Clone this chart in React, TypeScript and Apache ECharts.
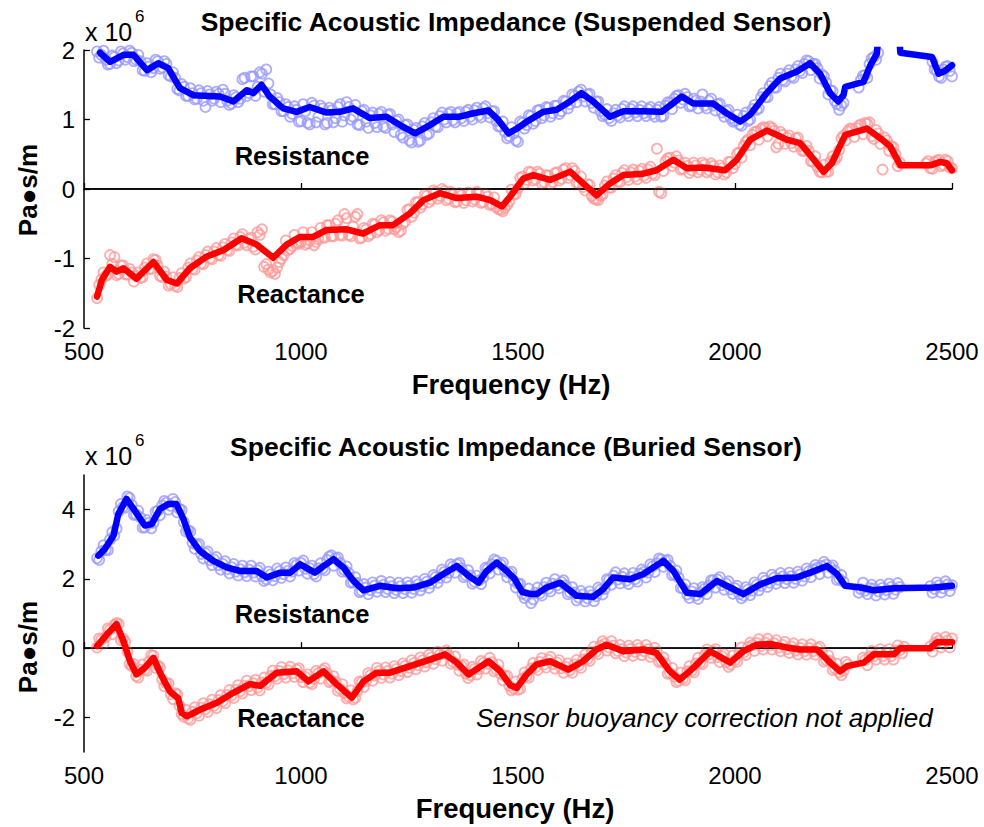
import React, { useEffect, useRef } from "react";
import * as echarts from "echarts";

const FONT = '"Liberation Sans", Arial, Helvetica, sans-serif';

// x ticks
const xTicks = [500, 1000, 1500, 2000, 2500];
const yTicksBuried = [-2, 0, 2, 4];

// measurement frequencies of the raw points (Hz): two interleaved sweeps
const scatterFreqA: number[] = Array.from({ length: 198 }, (_, i) => 530 + 10 * i); // 530..2500
const scatterFreqB: number[] = Array.from({ length: 197 }, (_, i) => 535 + 10 * i); // 535..2495

// ---- Suspended sensor (values in 10^6 Pa.s/m) ----
const susResPtsA: (number | null)[] = [
  1.98, 1.93, 1.86, 1.80, 1.90, 1.85, 1.95, 1.90, 1.96, 1.86,
  1.84, 1.70, 1.76, 1.74, 1.84, 1.75, 1.80, 1.62, 1.60, 1.42,
  1.47, 1.34, 1.38, 1.30, 1.38, 1.18, 1.36, 1.30, 1.37, 1.43,
  1.27, 1.23, 1.32, 1.30, 1.60, 1.38, 1.62, 1.47, 1.66, 1.72,
  1.36, 1.22, 1.25, 1.12, 1.18, 1.08, 1.14, 0.98, 1.12, 0.93,
  1.20, 1.04, 1.16, 0.95, 1.13, 1.02, 1.22, 1.06, 1.18, 1.04,
  0.93, 1.12, 0.97, 1.06, 0.95, 1.08, 0.90, 1.07, 0.93, 0.98,
  0.78, 0.92, 0.70, 0.85, 0.68, 0.90, 0.78, 0.96, 0.90, 1.05,
  1.00, 1.08, 0.99, 1.09, 1.02, 1.11, 1.04, 1.13, 1.06, 1.16,
  1.09, 1.12, 0.98, 0.90, 0.82, 0.76, 0.80, 0.68, 0.95, 0.92,
  1.05, 0.98, 1.14, 1.06, 1.17, 1.09, 1.20, 1.12, 1.26, 1.22,
  1.34, 1.40, 1.33, 1.36, 1.24, 1.26, 1.12, 1.07, 1.02, 1.09,
  1.06, 1.15, 1.09, 1.15, 1.10, 1.14, 1.09, 1.15, 1.08, 1.14,
  1.04, 1.20, 1.24, 1.30, 1.35, 1.29, 1.32, 1.20, 1.27, 1.26,
  1.20, 1.27, 1.20, 1.22, 1.10, 1.12, 1.02, 0.98, 0.93, 1.05,
  0.98, 1.15, 1.14, 1.32, 1.32, 1.48, 1.46, 1.60, 1.57, 1.66,
  1.62, 1.72, 1.70, 1.80, 1.84, 1.80, 1.74, 1.65, 1.53, 1.42,
  1.27, 1.14, 1.24, null, null, null, 1.57, 1.64, 1.80, 1.90,
  1.96, null, null, null, null, null, null, null, null, null,
  null, null, null, 1.72, 1.62, 1.72, 1.77, 1.62,
];
const susResPtsB: (number | null)[] = [
  1.89, 1.99, 1.79, 1.92, 1.81, 1.98, 1.86, 1.99, 1.84, 1.93,
  1.71, 1.81, 1.68, 1.86, 1.73, 1.84, 1.64, 1.68, 1.44, 1.51,
  1.34, 1.45, 1.29, 1.42, 1.27, 1.41, 1.27, 1.40, 1.25, 1.37,
  1.21, 1.35, 1.25, 1.58, 1.34, 1.62, 1.34, 1.68, 1.40, 1.52,
  1.22, 1.31, 1.12, 1.22, 1.04, 1.19, 0.97, 1.22, 0.95, 1.24,
  0.96, 1.20, 0.93, 1.17, 0.96, 1.18, 0.97, 1.25, 1.00, 1.21,
  0.92, 1.14, 0.88, 1.10, 0.89, 1.11, 0.88, 1.08, 0.82, 1.00,
  0.74, 0.93, 0.67, 0.88, 0.70, 0.95, 0.80, 1.02, 0.89, 1.10,
  0.96, 1.11, 0.96, 1.11, 0.98, 1.14, 1.00, 1.17, 1.03, 1.19,
  1.03, 1.12, 0.90, 0.97, 0.73, 0.89, 0.70, 0.97, 0.87, 1.06,
  0.94, 1.13, 1.02, 1.18, 1.04, 1.20, 1.08, 1.27, 1.16, 1.36,
  1.25, 1.43, 1.26, 1.37, 1.17, 1.26, 1.05, 1.15, 0.98, 1.14,
  1.03, 1.19, 1.05, 1.19, 1.05, 1.19, 1.05, 1.18, 1.04, 1.18,
  1.05, 1.25, 1.15, 1.34, 1.24, 1.37, 1.19, 1.30, 1.16, 1.36,
  1.16, 1.30, 1.13, 1.23, 1.04, 1.14, 0.97, 1.07, 0.91, 1.10,
  1.00, 1.21, 1.16, 1.38, 1.32, 1.53, 1.46, 1.66, 1.55, 1.71,
  1.60, 1.77, 1.67, 1.85, 1.71, 1.80, 1.59, 1.62, 1.36, 1.41,
  1.22, 1.20, null, null, null, 1.46, 1.63, 1.60, 1.88, 1.86,
  null, null, null, null, null, null, null, null, null, null,
  null, null, 1.83, 1.70, 1.60, 1.76, 1.70,
];

const susReacPtsA: (number | null)[] = [
  -1.57, -1.30, -1.25, -0.95, -0.98, -1.22, -1.10, -1.23, -1.20, -1.25,
  -1.28, -1.13, -1.15, -1.01, -1.10, -1.27, -1.26, -1.37, -1.39, -1.28,
  -1.29, -1.13, -1.15, -1.03, -1.07, -0.95, -1.00, -0.90, -0.95, -0.84,
  -0.88, -0.77, -0.80, -0.69, -0.77, -0.72, -0.83, -0.62, -0.58, -1.08,
  -1.20, -1.22, -1.05, -0.95, -0.88, -0.82, -0.78, -0.76, -0.80, -0.74,
  -0.81, -0.72, -0.70, -0.52, -0.68, -0.50, -0.66, -0.36, -0.66, -0.54,
  -0.36, -0.70, -0.58, -0.65, -0.51, -0.59, -0.48, -0.57, -0.47, -0.55,
  -0.60, -0.47, -0.29, -0.34, -0.19, -0.22, -0.10, -0.15, -0.04, -0.10,
  -0.03, -0.14, -0.08, -0.18, -0.09, -0.16, -0.07, -0.15, -0.07, -0.19,
  -0.11, -0.22, -0.26, -0.30, -0.27, -0.18, -0.08, 0.01, 0.18, 0.13,
  0.24, 0.14, 0.22, 0.10, 0.19, 0.10, 0.24, 0.15, 0.30, 0.20,
  0.26, 0.08, 0.03, 0.07, -0.10, -0.15, -0.10, 0.05, 0.02, 0.15,
  0.11, 0.23, 0.17, 0.24, 0.18, 0.26, 0.19, 0.28, 0.22, 0.58,
  -0.06, 0.40, 0.45, 0.38, 0.41, 0.29, 0.33, 0.27, 0.34, 0.28,
  0.35, 0.27, 0.33, 0.24, 0.30, 0.24, 0.39, 0.36, 0.53, 0.62,
  0.71, 0.78, 0.83, 0.86, 0.88, 0.90, 0.84, 0.65, 0.78, 0.74,
  0.66, 0.73, 0.62, 0.55, 0.55, 0.39, 0.32, 0.24, 0.25, 0.40,
  0.42, 0.56, 0.77, 0.83, 0.86, 0.88, 0.93, 0.95, 0.96, 0.72,
  0.80, 0.28, 0.70, 0.62, 0.50, 0.38, null, null, null, null,
  null, 0.37, 0.30, 0.39, 0.42, 0.35, 0.40, 0.30,
];
const susReacPtsB: (number | null)[] = [
  -1.38, -1.20, -1.23, -1.08, -1.24, -1.10, -1.23, -1.15, -1.33, -1.20,
  -1.27, -1.07, -1.15, -1.02, -1.25, -1.19, -1.39, -1.27, -1.41, -1.21,
  -1.27, -1.07, -1.16, -0.98, -1.08, -0.90, -1.01, -0.85, -0.96, -0.79,
  -0.89, -0.71, -0.81, -0.65, -0.81, -0.70, -0.87, -0.66, -1.12, -1.16,
  -1.18, -1.13, -1.00, -0.74, -0.86, -0.66, -0.79, -0.62, -0.78, -0.62,
  -0.76, -0.56, -0.70, -0.52, -0.68, -0.45, -0.67, -0.42, -0.68, -0.40,
  -0.71, -0.56, -0.68, -0.50, -0.62, -0.45, -0.60, -0.45, -0.58, -0.62,
  -0.50, -0.30, -0.40, -0.19, -0.27, -0.08, -0.19, -0.02, -0.14, 0.00,
  -0.16, -0.04, -0.19, -0.06, -0.20, -0.05, -0.18, -0.04, -0.20, -0.07,
  -0.23, -0.12, -0.29, -0.32, -0.23, -0.01, -0.07, 0.16, 0.08, 0.25,
  0.12, 0.25, 0.08, 0.20, 0.07, 0.23, 0.12, 0.28, 0.16, 0.30,
  0.09, 0.18, -0.02, 0.06, -0.14, -0.16, -0.08, 0.11, 0.02, 0.20,
  0.10, 0.27, 0.13, 0.28, 0.14, 0.29, 0.16, 0.32, 0.20, -0.04,
  0.26, 0.44, 0.33, 0.47, 0.28, 0.38, 0.23, 0.38, 0.24, 0.38,
  0.24, 0.37, 0.21, 0.34, 0.21, 0.39, 0.30, 0.51, 0.45, 0.68,
  0.63, 0.82, 0.71, 0.89, 0.76, 0.88, 0.60, 0.82, 0.65, 0.77,
  0.61, 0.74, 0.55, 0.62, 0.40, 0.47, 0.25, 0.35, 0.25, 0.47,
  0.46, 0.73, 0.70, 0.87, 0.75, 0.91, 0.79, 0.94, 0.76, 0.85,
  0.65, 0.74, 0.55, 0.60, 0.33, null, null, null, null, null,
  null, 0.40, 0.29, 0.41, 0.33, 0.42, 0.31,
];

const susResLine: [number, number][] = [
  [537, 1.96], [560, 1.83], [591, 1.93], [614, 1.93], [645, 1.71], [671, 1.81], [694, 1.74],
  [721, 1.45], [752, 1.35], [813, 1.33], [844, 1.26], [875, 1.42], [890, 1.38], [909, 1.5],
  [928, 1.33], [959, 1.16], [990, 1.11], [1020, 1.18], [1059, 1.1], [1090, 1.11], [1120, 1.16],
  [1159, 1.02], [1197, 1.04], [1228, 0.92], [1263, 0.8], [1297, 0.92], [1328, 1.04], [1366, 1.04],
  [1397, 1.09], [1432, 1.13], [1455, 0.99], [1478, 0.8], [1500, 0.88], [1520, 0.97], [1558, 1.11],
  [1589, 1.14], [1620, 1.26], [1646, 1.38], [1673, 1.26], [1712, 1.04], [1743, 1.12], [1789, 1.12],
  [1831, 1.11], [1877, 1.33], [1904, 1.23], [1950, 1.23], [1981, 1.09], [2012, 0.97], [2035, 1.07],
  [2073, 1.38], [2104, 1.59], [2143, 1.69], [2173, 1.81], [2196, 1.66], [2219, 1.38], [2238, 1.26],
  [2250, 1.35], [2254, 1.47], [2296, 1.54], [2312, 1.78], [2327, 1.95], [2331, 2.3], [2377, 2.3],
  [2381, 1.96], [2454, 1.9], [2469, 1.66], [2481, 1.69], [2500, 1.78],
];

const susReacLine: [number, number][] = [
  [530, -1.55], [541, -1.31], [560, -1.12], [575, -1.19], [591, -1.14], [621, -1.29], [660, -1.05],
  [691, -1.31], [714, -1.36], [744, -1.14], [783, -0.97], [821, -0.88], [863, -0.71], [898, -0.8],
  [936, -0.99], [967, -0.8], [997, -0.69], [1028, -0.69], [1059, -0.59], [1105, -0.58], [1143, -0.64],
  [1182, -0.52], [1212, -0.52], [1251, -0.35], [1282, -0.16], [1320, -0.06], [1359, -0.13], [1405, -0.11],
  [1436, -0.16], [1463, -0.25], [1482, -0.11], [1512, 0.15], [1535, 0.2], [1574, 0.13], [1620, 0.25],
  [1650, 0.08], [1681, -0.09], [1712, 0.08], [1743, 0.2], [1789, 0.22], [1819, 0.27], [1858, 0.42],
  [1889, 0.3], [1927, 0.31], [1977, 0.27], [2004, 0.42], [2035, 0.71], [2073, 0.84], [2096, 0.78],
  [2119, 0.71], [2150, 0.66], [2173, 0.49], [2204, 0.25], [2223, 0.37], [2254, 0.78], [2304, 0.87],
  [2335, 0.73], [2358, 0.61], [2381, 0.34], [2450, 0.34], [2473, 0.39], [2488, 0.37], [2500, 0.27],
];

// ---- Buried sensor ----
const burResPtsA: (number | null)[] = [
  2.60, 2.80, 2.84, 3.14, 3.25, 3.95, 4.08, 4.38, 4.14, 3.86,
  3.78, 3.49, 3.62, 3.62, 3.97, 4.12, 4.20, 4.11, 4.22, 4.02,
  3.64, 3.40, 3.04, 2.98, 2.72, 2.74, 2.54, 2.56, 2.40, 2.43,
  2.28, 2.34, 2.21, 2.28, 2.19, 2.27, 2.18, 2.25, 2.08, 1.99,
  2.13, 2.08, 2.22, 2.14, 2.23, 2.21, 2.41, 2.46, 2.29, 2.31,
  2.14, 2.31, 2.30, 2.55, 2.68, 2.60, 2.46, 2.25, 2.17, 1.90,
  1.88, 1.65, 1.75, 1.68, 1.81, 1.74, 1.83, 1.71, 1.79, 1.68,
  1.79, 1.70, 1.80, 1.71, 1.84, 1.79, 1.92, 1.87, 2.05, 2.03,
  2.20, 2.18, 2.36, 2.42, 2.31, 2.10, 2.10, 1.92, 1.96, 2.04,
  2.30, 2.42, 2.52, 2.42, 2.22, 2.17, 1.95, 1.86, 1.57, 1.52,
  1.30, 1.60, 1.58, 1.76, 1.72, 1.86, 1.82, 1.91, 1.81, 1.61,
  1.61, 1.46, 1.55, 1.44, 1.53, 1.50, 1.69, 1.71, 1.97, 2.09,
  1.98, 2.06, 1.95, 2.05, 1.99, 2.15, 2.20, 2.18, 2.36, 2.45,
  2.56, 2.52, 2.38, 2.14, 2.04, 1.73, 1.55, 1.64, 1.52, 1.61,
  1.71, 1.81, 1.96, 1.98, 1.82, 1.86, 1.70, 1.73, 1.56, 1.52,
  1.69, 1.66, 1.83, 1.80, 1.95, 1.89, 2.04, 1.98, 2.07, 1.99,
  2.08, 2.00, 2.13, 2.07, 2.22, 2.27, 2.32, 2.37, 2.41, 2.34,
  2.24, 2.00, 1.92, null, null, null, 1.70, 1.66, 1.74, 1.72,
  1.64, 1.74, 1.67, 1.77, 1.69, 1.77, null, null, null, null,
  null, null, 1.79, 1.71, 1.81, 1.73, 1.84, 1.82,
];
const burResPtsB: (number | null)[] = [
  2.55, 2.97, 2.83, 3.35, 3.45, 4.16, 4.06, 4.34, 3.85, 3.97,
  3.48, 3.70, 3.46, 3.94, 3.84, 4.25, 4.00, 4.31, 3.92, 3.99,
  3.37, 3.37, 2.87, 3.01, 2.59, 2.79, 2.40, 2.63, 2.27, 2.51,
  2.16, 2.43, 2.10, 2.38, 2.08, 2.38, 2.07, 2.32, 1.94, 2.21,
  1.96, 2.30, 2.03, 2.33, 2.07, 2.46, 2.24, 2.53, 2.15, 2.38,
  2.07, 2.45, 2.25, 2.64, 2.38, 2.62, 2.21, 2.36, 1.89, 2.05,
  1.62, 1.85, 1.56, 1.90, 1.63, 1.94, 1.62, 1.91, 1.59, 1.89,
  1.59, 1.90, 1.60, 1.93, 1.67, 2.00, 1.74, 2.11, 1.89, 2.27,
  2.04, 2.42, 2.18, 2.46, 2.05, 2.25, 1.86, 2.09, 1.85, 2.32,
  2.16, 2.56, 2.27, 2.47, 2.05, 2.21, 1.75, 1.86, 1.45, 1.72,
  1.41, 1.75, 1.52, 1.89, 1.64, 1.99, 1.73, 1.96, 1.56, 1.76,
  1.38, 1.65, 1.35, 1.64, 1.36, 1.75, 1.55, 1.99, 1.83, 2.19,
  1.87, 2.16, 1.85, 2.17, 1.92, 2.27, 2.04, 2.42, 2.20, 2.59,
  2.35, 2.55, 2.11, 2.24, 1.74, 1.84, 1.45, 1.73, 1.42, 1.76,
  1.56, 1.96, 1.75, 2.05, 1.69, 1.93, 1.57, 1.80, 1.44, 1.76,
  1.53, 1.90, 1.67, 2.03, 1.77, 2.12, 1.86, 2.17, 1.88, 2.18,
  1.89, 2.21, 1.95, 2.30, 2.05, 2.40, 2.14, 2.49, 2.18, 2.39,
  1.97, 2.11, null, null, null, 1.60, 1.89, 1.56, 1.83, 1.52,
  1.83, 1.55, 1.86, 1.57, 1.88, null, null, null, null, null,
  null, null, 1.60, 1.90, 1.61, 1.93, 1.65,
];

const burReacPtsA: (number | null)[] = [
  0.02, 0.25, 0.32, 0.54, 0.67, 0.70, 0.28, -0.10, -0.52, -0.80,
  -0.62, -0.62, -0.38, -0.22, -0.50, -0.90, -1.02, -1.33, -1.30, -1.66,
  -1.98, -2.03, -1.84, -1.88, -1.72, -1.76, -1.62, -1.66, -1.50, -1.53,
  -1.35, -1.37, -1.20, -1.24, -1.08, -1.10, -1.01, -1.14, -0.99, -1.00,
  -0.80, -0.81, -0.66, -0.75, -0.64, -0.73, -0.62, -0.84, -0.83, -1.00,
  -0.89, -0.72, -0.64, -0.72, -0.94, -0.97, -1.18, -1.29, -1.41, -1.48,
  -1.24, -0.98, -0.96, -0.78, -0.79, -0.66, -0.76, -0.66, -0.74, -0.60,
  -0.66, -0.51, -0.57, -0.43, -0.49, -0.35, -0.41, -0.27, -0.32, -0.18,
  -0.14, -0.20, -0.39, -0.48, -0.51, -0.74, -0.78, -0.60, -0.61, -0.43,
  -0.45, -0.41, -0.62, -0.74, -0.81, -1.09, -1.17, -1.20, -0.88, -0.81,
  -0.59, -0.56, -0.40, -0.47, -0.34, -0.46, -0.42, -0.58, -0.54, -0.64,
  -0.47, -0.50, -0.33, -0.32, -0.11, -0.10, 0.07, 0.13, 0.02, 0.07,
  -0.08, -0.03, -0.13, -0.02, -0.11, 0.00, -0.09, -0.03, -0.16, -0.11,
  -0.38, -0.45, -0.72, -0.82, -0.94, -0.88, -0.67, -0.66, -0.44, -0.42,
  -0.20, -0.18, -0.09, -0.26, -0.23, -0.41, -0.47, -0.35, -0.13, -0.13,
  0.03, 0.09, 0.15, 0.06, 0.16, 0.08, 0.14, 0.02, 0.09, -0.03,
  0.05, -0.07, 0.01, -0.09, 0.01, -0.09, 0.00, -0.13, -0.35, -0.37,
  -0.59, -0.70, -0.66, -0.47, null, null, null, -0.34, -0.24, -0.23,
  -0.13, -0.23, -0.13, -0.23, -0.07, -0.06, 0.04, null, null, null,
  null, null, 0.05, 0.16, 0.22, 0.12, 0.22, 0.28,
];
const burReacPtsB: (number | null)[] = [
  0.28, 0.13, 0.57, 0.40, 0.73, 0.23, 0.19, -0.46, -0.46, -0.85,
  -0.47, -0.65, -0.20, -0.57, -0.55, -1.10, -1.02, -1.47, -1.34, -1.90,
  -1.78, -2.07, -1.71, -1.95, -1.59, -1.84, -1.49, -1.73, -1.36, -1.59,
  -1.21, -1.44, -1.07, -1.31, -0.94, -1.21, -0.92, -1.22, -0.85, -1.05,
  -0.65, -0.88, -0.55, -0.85, -0.54, -0.83, -0.58, -0.98, -0.76, -1.04,
  -0.66, -0.88, -0.58, -0.98, -0.81, -1.23, -1.04, -1.45, -1.22, -1.44,
  -0.96, -1.12, -0.72, -0.94, -0.57, -0.86, -0.56, -0.85, -0.52, -0.78,
  -0.44, -0.69, -0.35, -0.61, -0.27, -0.53, -0.19, -0.45, -0.10, -0.36,
  -0.07, -0.45, -0.24, -0.65, -0.47, -0.86, -0.54, -0.76, -0.37, -0.59,
  -0.28, -0.67, -0.48, -0.93, -0.80, -1.22, -0.96, -1.17, -0.70, -0.85,
  -0.43, -0.63, -0.29, -0.56, -0.25, -0.59, -0.35, -0.71, -0.44, -0.71,
  -0.34, -0.57, -0.18, -0.37, 0.04, -0.17, 0.20, -0.07, 0.20, -0.15,
  0.09, -0.23, 0.07, -0.22, 0.09, -0.20, 0.09, -0.25, 0.01, -0.40,
  -0.27, -0.74, -0.57, -0.98, -0.71, -0.93, -0.52, -0.70, -0.28, -0.46,
  -0.04, -0.28, -0.03, -0.40, -0.17, -0.54, -0.21, -0.39, 0.02, -0.20,
  0.16, -0.08, 0.26, -0.04, 0.27, -0.04, 0.23, -0.09, 0.18, -0.14,
  0.14, -0.18, 0.11, -0.19, 0.11, -0.19, 0.04, -0.39, -0.21, -0.63,
  -0.45, -0.78, -0.40, null, null, null, -0.28, -0.49, -0.08, -0.33,
  -0.03, -0.33, -0.03, -0.33, 0.08, -0.15, null, null, null, null,
  null, null, -0.10, 0.29, 0.02, 0.32, 0.02,
];

const burResLine: [number, number][] = [
  [533, 2.67], [548, 2.86], [568, 3.25], [579, 3.87], [598, 4.31], [617, 3.97], [640, 3.54],
  [656, 3.58], [675, 4.02], [694, 4.16], [713, 4.16], [729, 3.73], [744, 3.2], [767, 2.81],
  [798, 2.52], [829, 2.33], [859, 2.23], [898, 2.23], [921, 2.04], [952, 2.18], [975, 2.18],
  [998, 2.42], [1032, 2.18], [1052, 2.37], [1075, 2.57], [1098, 2.33], [1121, 1.94], [1144, 1.67],
  [1182, 1.8], [1221, 1.73], [1259, 1.75], [1297, 1.89], [1328, 2.14], [1359, 2.37], [1386, 2.09],
  [1409, 1.89], [1428, 2.23], [1451, 2.47], [1474, 2.23], [1492, 2.0], [1510, 1.62], [1530, 1.56],
  [1543, 1.56], [1566, 1.75], [1597, 1.89], [1635, 1.51], [1673, 1.48], [1696, 1.7], [1719, 2.04],
  [1758, 1.99], [1789, 2.14], [1835, 2.52], [1858, 2.23], [1889, 1.6], [1920, 1.56], [1958, 1.94],
  [1989, 1.75], [2019, 1.56], [2058, 1.84], [2096, 2.02], [2142, 2.04], [2173, 2.18], [2212, 2.37],
  [2235, 2.14], [2254, 1.8], [2289, 1.75], [2320, 1.67], [2366, 1.73], [2458, 1.75], [2500, 1.8],
];

const burReacLine: [number, number][] = [
  [530, 0.06], [553, 0.4], [575, 0.69], [591, 0.2], [606, -0.38], [621, -0.76], [640, -0.57],
  [660, -0.28], [679, -0.81], [698, -1.25], [717, -1.45], [725, -1.87], [737, -1.97], [767, -1.78],
  [806, -1.58], [844, -1.29], [882, -1.04], [906, -1.09], [944, -0.71], [990, -0.67], [1017, -0.96],
  [1052, -0.67], [1082, -1.04], [1117, -1.43], [1144, -0.96], [1174, -0.71], [1205, -0.71], [1251, -0.52],
  [1297, -0.33], [1332, -0.18], [1359, -0.42], [1386, -0.76], [1409, -0.57], [1432, -0.38], [1459, -0.67],
  [1482, -1.07], [1497, -1.15], [1520, -0.76], [1543, -0.47], [1574, -0.38], [1616, -0.62], [1650, -0.38],
  [1681, -0.04], [1704, 0.1], [1743, -0.09], [1789, -0.04], [1819, -0.14], [1850, -0.67], [1873, -0.91],
  [1904, -0.57], [1943, -0.09], [1989, -0.42], [2019, -0.09], [2050, 0.1], [2081, 0.12], [2119, 0.02],
  [2150, -0.04], [2189, -0.04], [2216, -0.38], [2242, -0.67], [2258, -0.52], [2296, -0.42], [2320, -0.18],
  [2366, -0.18], [2381, 0.0], [2450, 0.0], [2465, 0.17], [2500, 0.17],
];

const zeroLine: [number, number][] = [[500, 0], [2500, 0]];

const BLUE = "#0000ff";
const RED = "#ff0000";
const LIGHT_BLUE = "#9999ff";
const LIGHT_RED = "#ff9999";

function pts(freq: number[], vals: (number | null)[]) {
  const out: [number, number][] = [];
  freq.forEach((f, i) => {
    const v = vals[i];
    if (v !== null && v !== undefined) out.push([f, v]);
  });
  return out;
}

function scatter(idx: number, a: (number | null)[], b: (number | null)[], color: string) {
  return {
    type: "scatter",
    xAxisIndex: idx,
    yAxisIndex: idx,
    data: [...pts(scatterFreqA, a), ...pts(scatterFreqB, b)],
    symbol: "circle",
    symbolSize: 10,
    silent: true,
    z: 2,
    itemStyle: { color: "rgba(0,0,0,0)", borderColor: color, borderWidth: 1.8 },
  };
}

function line(idx: number, data: [number, number][], color: string, width = 6.5, z = 4) {
  return {
    type: "line",
    xAxisIndex: idx,
    yAxisIndex: idx,
    data,
    symbol: "none",
    silent: true,
    z,
    lineStyle: { color, width, join: "round", cap: "round" },
  };
}

const axisCommon = {
  axisLine: { show: true, lineStyle: { color: "#000", width: 1.5 } },
  axisTick: { show: true, inside: true, length: 6, lineStyle: { color: "#000", width: 1.3 } },
  splitLine: { show: false },
};

const plain = (v: number) => String(v);

function txt(x: number, y: number, text: string, font: string, align = "center", rotation = 0) {
  return {
    type: "text",
    x,
    y,
    rotation,
    silent: true,
    style: {
      text,
      font,
      fill: "#000",
      align,
      textAlign: align,
      verticalAlign: "middle",
      textVerticalAlign: "middle",
    },
  };
}

export default function App() {
  const ref = useRef<HTMLDivElement>(null);
  useEffect(() => {
    if (!ref.current) return;
    const chart = echarts.init(ref.current, null, { renderer: "svg" });
    const option: any = {
      animation: false,
      backgroundColor: "#fff",
      grid: [
        { left: 84, top: 50, width: 868, height: 278 },
        { left: 84, top: 475, width: 868, height: 277 },
      ],
      xAxis: [0, 1].map((i) => ({
        type: "value",
        gridIndex: i,
        min: 500,
        max: 2500,
        interval: 500,
        ...axisCommon,
        axisLabel: {
          color: "#000",
          fontSize: 24,
          fontFamily: FONT,
          margin: 11,
          formatter: plain,
          customValues: xTicks,
        },
        axisTick: { ...axisCommon.axisTick, customValues: xTicks },
      })),
      yAxis: [
        {
          type: "value",
          gridIndex: 0,
          min: -2,
          max: 2,
          interval: 1,
          ...axisCommon,
          axisLabel: { color: "#000", fontSize: 24, fontFamily: FONT, margin: 9, formatter: plain },
        },
        {
          type: "value",
          gridIndex: 1,
          min: -3,
          max: 5,
          interval: 1,
          ...axisCommon,
          axisTick: { ...axisCommon.axisTick, customValues: yTicksBuried },
          axisLabel: {
            color: "#000",
            fontSize: 24,
            fontFamily: FONT,
            margin: 9,
            formatter: plain,
            customValues: yTicksBuried,
          },
        },
      ],
      series: [
        scatter(0, susResPtsA, susResPtsB, LIGHT_BLUE),
        scatter(0, susReacPtsA, susReacPtsB, LIGHT_RED),
        line(0, zeroLine, "#000", 1.3, 3),
        line(0, susResLine, BLUE),
        line(0, susReacLine, RED),
        scatter(1, burResPtsA, burResPtsB, LIGHT_BLUE),
        scatter(1, burReacPtsA, burReacPtsB, LIGHT_RED),
        line(1, zeroLine, "#000", 1.3, 3),
        line(1, burResLine, BLUE),
        line(1, burReacLine, RED),
      ],
      graphic: [
        txt(516, 22, "Specific Acoustic Impedance (Suspended Sensor)", `bold 26.5px ${FONT}`),
        txt(516, 447, "Specific Acoustic Impedance (Buried Sensor)", `bold 26.5px ${FONT}`),
        txt(85, 32, "x 10", `25px ${FONT}`, "left"),
        txt(135, 16, "6", `17px ${FONT}`, "left"),
        txt(85, 456, "x 10", `25px ${FONT}`, "left"),
        txt(135, 440, "6", `17px ${FONT}`, "left"),
        txt(28, 190, "Pa\u25CFs/m", `bold 26px ${FONT}`, "center", Math.PI / 2),
        txt(28, 647, "Pa\u25CFs/m", `bold 26px ${FONT}`, "center", Math.PI / 2),
        txt(511, 384, "Frequency (Hz)", `bold 27.5px ${FONT}`),
        txt(515, 808, "Frequency (Hz)", `bold 27.5px ${FONT}`),
        txt(302, 156, "Resistance", `bold 25.5px ${FONT}`),
        txt(301, 294, "Reactance", `bold 25.5px ${FONT}`),
        txt(302, 614, "Resistance", `bold 25.5px ${FONT}`),
        txt(301, 718, "Reactance", `bold 25.5px ${FONT}`),
        txt(476, 718, "Sensor buoyancy correction not applied", `italic 26px ${FONT}`, "left"),
      ],
    };
    chart.setOption(option);
    return () => chart.dispose();
  }, []);
  return (
    <div
      ref={ref}
      style={{ position: "fixed", left: 0, top: 0, width: 984, height: 827, background: "#fff" }}
    />
  );
}
